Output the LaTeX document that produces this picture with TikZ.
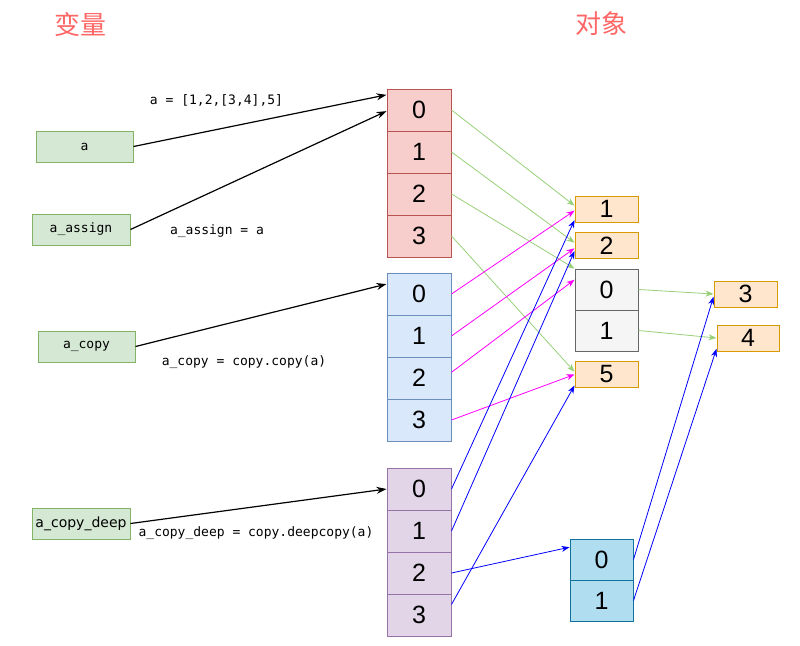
\documentclass[tikz,border=0pt]{standalone}
\usepackage{fontspec}
\setmainfont{Liberation Sans}
\setmonofont{DejaVu Sans Mono}
\newfontfamily\cjk{Noto Sans CJK SC}
\newfontfamily\dejavu{DejaVu Sans}
\usetikzlibrary{arrows.meta}

\definecolor{titlered}{HTML}{FF6666}
\definecolor{varfill}{HTML}{D5E8D4}
\definecolor{vardraw}{HTML}{82B366}
\definecolor{redfill}{HTML}{F8CECC}
\definecolor{reddraw}{HTML}{B85450}
\definecolor{bluefill}{HTML}{DAE8FC}
\definecolor{bluedraw}{HTML}{6C8EBF}
\definecolor{purpfill}{HTML}{E1D5E7}
\definecolor{purpdraw}{HTML}{9673A6}
\definecolor{orfill}{HTML}{FFE6CC}
\definecolor{ordraw}{HTML}{D79B00}
\definecolor{grayfill}{HTML}{F5F5F5}
\definecolor{graydraw}{HTML}{666666}
\definecolor{deepfill}{HTML}{B1DDF0}
\definecolor{deepdraw}{HTML}{10739E}
\definecolor{origline}{HTML}{97D077}
\definecolor{shallowline}{HTML}{FF00FF}
\definecolor{deepline}{HTML}{0000FF}

\tikzset{
  var/.style={rectangle,draw=vardraw,fill=varfill,line width=1pt,minimum width=97pt,minimum height=31pt,inner sep=0pt,font=\fontsize{13}{16}\selectfont\ttfamily},
  cell/.style={rectangle,line width=1pt,minimum width=64pt,minimum height=42pt,inner sep=0pt,font=\fontsize{25}{28}\selectfont},
  obj/.style={rectangle,draw=ordraw,fill=orfill,line width=1pt,minimum width=63pt,minimum height=26pt,inner sep=0pt,font=\fontsize{25}{28}\selectfont},
  code/.style={inner sep=0pt,font=\fontsize{13}{16}\selectfont\ttfamily},
  ref/.style={-{Stealth[length=10pt,width=7pt]},line width=1.2pt,black},
  orig/.style={-{Stealth[length=8pt,width=6pt]},line width=0.8pt,origline},
  shallow/.style={-{Stealth[length=8pt,width=6pt]},line width=0.8pt,shallowline},
  deep/.style={-{Stealth[length=8pt,width=6pt]},line width=0.8pt,deepline}
}

\begin{document}
\begin{tikzpicture}[x=1pt,y=-1pt]
  \useasboundingbox (0,0) rectangle (800,645);

  \node[text=titlered,font=\cjk\fontsize{26}{30}\selectfont] (tvar) at (80.5,25) {变量};
  \node[text=titlered,font=\cjk\fontsize{26}{30}\selectfont] (tobj) at (601,24) {对象};

  % variables
  \node[var] (va) at (84.5,146.5) {a};
  \node[var,minimum width=98pt] (vassign) at (81,229.5) {a\_assign};
  \node[var] (vcopy) at (86.5,346.5) {a\_copy};
  \node[var,minimum width=98pt,font=\dejavu\fontsize{14}{16}\selectfont] (vdeep) at (81,523.5) {a\_copy\_deep};

  % lists
  \foreach \i in {0,...,3} {
    \node[cell,draw=reddraw,fill=redfill] (r\i) at (419,110+42*\i) {\i};
    \node[cell,draw=bluedraw,fill=bluefill] (b\i) at (419,294+42*\i) {\i};
    \node[cell,draw=purpdraw,fill=purpfill] (p\i) at (419,489+42*\i) {\i};
  }

  % objects
  \node[obj] (o1) at (606.5,209) {1};
  \node[obj] (o2) at (606.5,245.5) {2};
  \node[cell,draw=graydraw,fill=grayfill,minimum width=63pt,minimum height=41pt] (g0) at (606.5,289.5) {0};
  \node[cell,draw=graydraw,fill=grayfill,minimum width=63pt,minimum height=41pt] (g1) at (606.5,330.5) {1};
  \node[obj] (o5) at (606.5,374.5) {5};
  \node[obj] (o3) at (745.5,294) {3};
  \node[obj,minimum width=62pt] (o4) at (748,338) {4};
  \node[cell,draw=deepdraw,fill=deepfill,minimum width=63pt,minimum height=41pt] (d0) at (601.5,559.5) {0};
  \node[cell,draw=deepdraw,fill=deepfill,minimum width=63pt,minimum height=41pt] (d1) at (601.5,600.5) {1};

  % assignments
  \node[code] (la) at (216.5,100) {a = [1,2,[3,4],5]};
  \node[code] (lassign) at (217,231) {a\_assign = a};
  \node[code] (lcopy) at (244,362) {a\_copy = copy.copy(a)};
  \node[code] (ldeep) at (256,533) {a\_copy\_deep = copy.deepcopy(a)};

  \foreach \from/\to in {va/r0.155,vassign/r0.182,vcopy/b0.163,vdeep/p0.180}
    \draw[ref] (\from.east) -- (\to);

  \foreach \from/\to in {r0.east/o1.174,r1.east/o2.175,r2.east/g0.north west,r3.east/o5.175,g0.east/o3.180,g1.east/o4.180}
    \draw[orig] (\from) -- (\to);

  \foreach \from/\to in {b0.east/o1.183,b1.east/o2.185,b2.10/g0.163,b3.east/o5.180}
    \draw[shallow] (\from) -- (\to);

  \foreach \from/\to in {p0.east/o1.199,p1.east/o2.190,p2.east/d0.159,p3.18/o5.199,d0.east/o3.185,d1.east/o4.199}
    \draw[deep] (\from) -- (\to);

\end{tikzpicture}
\end{document}
